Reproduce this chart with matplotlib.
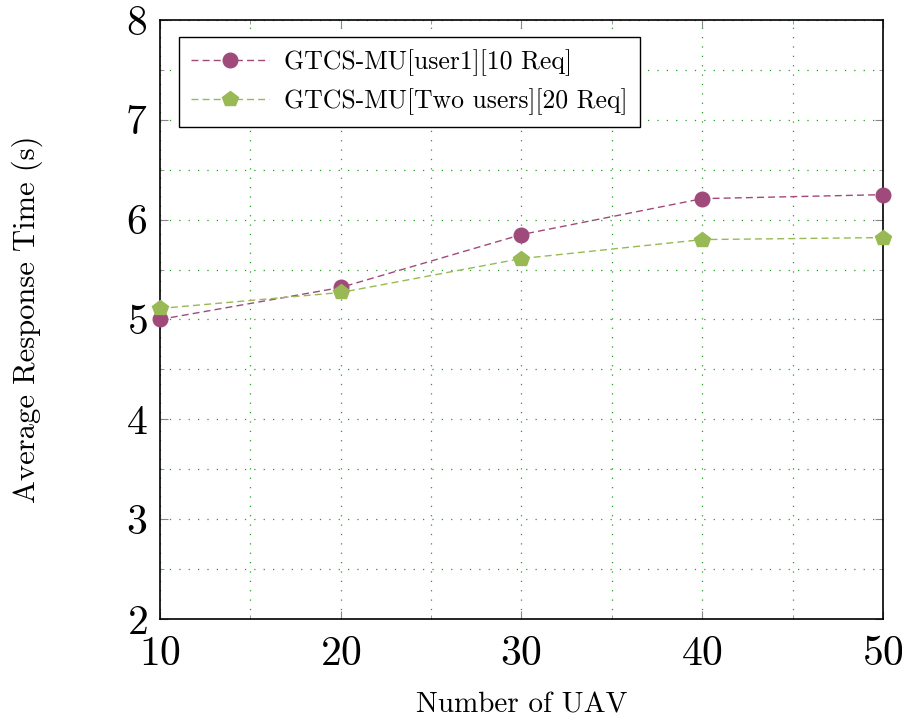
import matplotlib
matplotlib.use("Agg")
import matplotlib.pyplot as plt
from matplotlib.ticker import MultipleLocator

plt.rcParams['font.family'] = ['cmr10', 'DejaVu Serif']
plt.rcParams['axes.formatter.use_mathtext'] = True
plt.rcParams['mathtext.fontset'] = 'cm'

uav = [10, 20, 30, 40, 50]
user1_10req = [5.00, 5.32, 5.85, 6.21, 6.25]
two_users_20req = [5.11, 5.27, 5.61, 5.80, 5.82]
label1 = "GTCS-MU[user1][10 Req]"
label2 = "GTCS-MU[Two users][20 Req]"

purple = "#A04A7B"
green = "#98B954"

fig = plt.figure(figsize=(9.03, 7.22), dpi=100)
ax = fig.add_axes([0.177, 0.1427, 0.801, 0.8297])

ax.plot(uav, user1_10req, linestyle=(0, (5, 3)), color=purple, linewidth=1.0,
        marker='o', markersize=10.5, label=label1, clip_on=False, zorder=3)
ax.plot(uav, two_users_20req, linestyle=(0, (5, 3)), color=green, linewidth=1.0,
        marker='p', markersize=11.5, label=label2, clip_on=False, zorder=3)

ax.set_xlim(10, 50)
ax.set_ylim(2, 8)
ax.xaxis.set_major_locator(MultipleLocator(10))
ax.xaxis.set_minor_locator(MultipleLocator(5))
ax.yaxis.set_major_locator(MultipleLocator(1))
ax.yaxis.set_minor_locator(MultipleLocator(0.5))

ax.grid(True, which='both', color='#22A022', linestyle=(0, (1, 6.5)), linewidth=0.9)
ax.set_axisbelow(True)

ax.tick_params(which='both', direction='in', top=True, right=True, color='#888888')
ax.tick_params(which='major', length=6, labelsize=30)
ax.tick_params(axis='x', which='major', pad=12)
ax.tick_params(axis='y', which='major', pad=9)
ax.tick_params(which='minor', length=3)
for s in ax.spines.values():
    s.set_linewidth(1.2)
    s.set_color('black')

ax.set_xlabel("Number of UAV", fontsize=21, labelpad=14)
ax.set_ylabel("Average Response Time (s)", fontsize=22, labelpad=59)

leg = ax.legend(loc='upper left', bbox_to_anchor=(0.026, 0.972), fontsize=18.5,
                frameon=True, fancybox=False, edgecolor='black', framealpha=1,
                handlelength=3.0, handletextpad=0.6, borderpad=0.5, labelspacing=0.45,
                borderaxespad=0.0)
leg.get_frame().set_linewidth(1.0)

fig.savefig("out.png", dpi=100)
